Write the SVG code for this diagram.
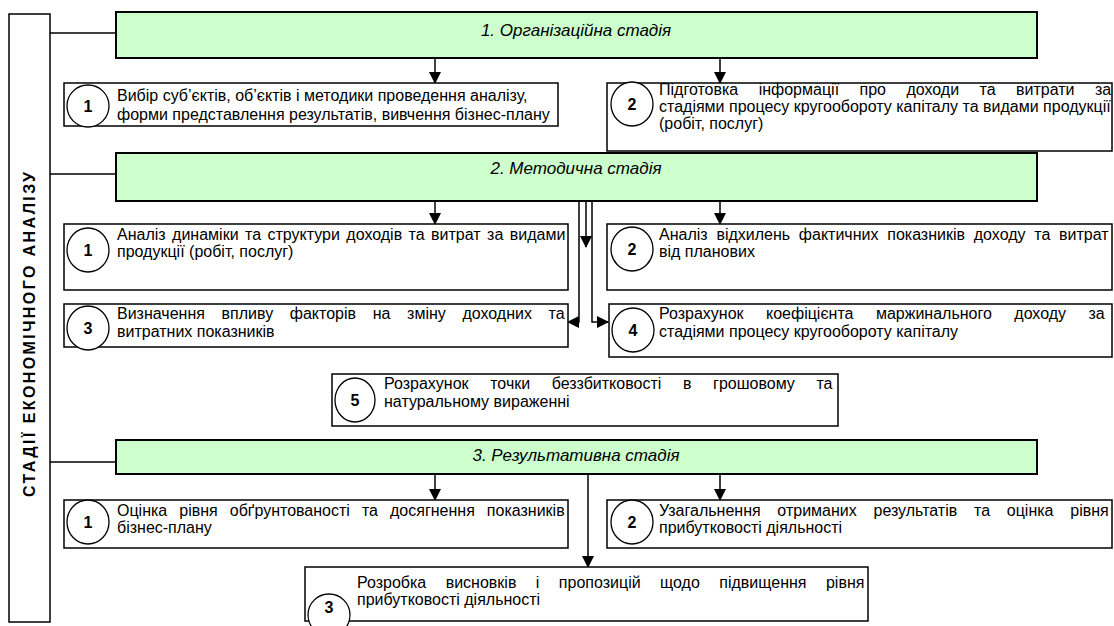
<svg xmlns="http://www.w3.org/2000/svg" width="1114" height="626" viewBox="0 0 1114 626">
<defs>
<marker id="ah" markerWidth="12" markerHeight="12" refX="11" refY="6" orient="auto" markerUnits="userSpaceOnUse"><path d="M0,0 L12,6 L0,12 Z" fill="#000"/></marker>
<style>
.stage{fill:#CCFFCC;stroke:#000;stroke-width:2}
.box{fill:#fff;stroke:#000;stroke-width:1.5}
.circ{fill:#fff;stroke:#000;stroke-width:1.3}
.t{font-family:"Liberation Sans",Arial,sans-serif;font-size:16px;fill:#000}
.st{font-family:"Liberation Sans",Arial,sans-serif;font-size:17px;font-style:italic;fill:#000;text-anchor:middle}
.num{font-family:"Liberation Sans",Arial,sans-serif;font-size:16px;font-weight:bold;fill:#000;text-anchor:middle}
.con{fill:none;stroke:#000;stroke-width:1.5}
.arr{fill:none;stroke:#000;stroke-width:1.5;marker-end:url(#ah)}
</style>
</defs>
<rect width="1114" height="626" fill="#fff"/>

<g id="connectors">
<path class="con" d="M50,33 H116"/>
<path class="con" d="M50,174 H116"/>
<path class="con" d="M50,462 H116"/>
<path class="arr" d="M435,58 V83"/>
<path class="arr" d="M720,58 V83"/>
<path class="arr" d="M435,201 V224"/>
<path class="arr" d="M720,201 V224"/>
<path class="arr" d="M586,201 V247"/>
<path class="arr" d="M579,201 V322 H568"/>
<path class="arr" d="M592,201 V322 H608"/>
<path class="arr" d="M435,474 V500"/>
<path class="arr" d="M720,474 V500"/>
<path class="arr" d="M588,474 V567"/>
</g>

<g id="side">
<rect class="box" x="9" y="14" width="41" height="608"/>
<text transform="translate(35,497) rotate(-90)" style="font-family:'Liberation Sans',Arial,sans-serif;font-size:16px;font-weight:bold" textLength="325" lengthAdjust="spacing">СТАДІЇ ЕКОНОМІЧНОГО АНАЛІЗУ</text>
</g>

<g id="stage1">
<rect class="stage" x="116" y="12" width="921" height="46"/>
<text class="st" x="576" y="36">1. Організаційна стадія</text>
</g>
<g id="n1-1">
<rect class="box" x="64" y="83" width="494" height="43"/>
<ellipse class="circ" cx="88" cy="106" rx="21" ry="21"/>
<text class="num" x="88" y="112">1</text>
<text class="t" x="117" y="101">Вибір суб’єктів, об’єктів і методики проведення аналізу,</text>
<text class="t" x="117" y="120">форми представлення результатів, вивчення бізнес-плану</text>
</g>
<g id="n1-2">
<rect class="box" x="607" y="83" width="505" height="68"/>
<ellipse class="circ" cx="632" cy="104" rx="21" ry="22"/>
<text class="num" x="632" y="110">2</text>
<text class="t" x="659" y="95" word-spacing="16">Підготовка інформації про доходи та витрати за</text>
<text class="t" x="659" y="112">стадіями процесу кругообороту капіталу та видами продукції</text>
<text class="t" x="659" y="129">(робіт, послуг)</text>
</g>

<g id="stage2">
<rect class="stage" x="116" y="153" width="921" height="48"/>
<text class="st" x="576" y="174">2. Методична стадія</text>
</g>
<g id="n2-1">
<rect class="box" x="64" y="224" width="504" height="66"/>
<ellipse class="circ" cx="88" cy="250" rx="21" ry="22"/>
<text class="num" x="88" y="256">1</text>
<text class="t" x="117" y="240" word-spacing="2">Аналіз динаміки та структури доходів та витрат за видами</text>
<text class="t" x="117" y="257">продукції (робіт, послуг)</text>
</g>
<g id="n2-2">
<rect class="box" x="607" y="224" width="505" height="66"/>
<ellipse class="circ" cx="632" cy="249" rx="21" ry="22"/>
<text class="num" x="632" y="255">2</text>
<text class="t" x="659" y="240" word-spacing="4.3">Аналіз відхилень фактичних показників доходу та витрат</text>
<text class="t" x="659" y="257">від планових</text>
</g>
<g id="n2-3">
<rect class="box" x="64" y="304" width="504" height="43"/>
<ellipse class="circ" cx="88" cy="328" rx="21" ry="22"/>
<text class="num" x="88" y="334">3</text>
<text class="t" x="117" y="319" word-spacing="12.2">Визначення впливу факторів на зміну доходних та</text>
<text class="t" x="117" y="337">витратних показників</text>
</g>
<g id="n2-4">
<rect class="box" x="609" y="304" width="503" height="53"/>
<ellipse class="circ" cx="633" cy="330" rx="21" ry="22"/>
<text class="num" x="633" y="336">4</text>
<text class="t" x="659" y="319" word-spacing="18">Розрахунок коефіцієнта маржинального доходу за</text>
<text class="t" x="659" y="337">стадіями процесу кругообороту капіталу</text>
</g>
<g id="n2-5">
<rect class="box" x="332" y="374" width="506" height="52"/>
<ellipse class="circ" cx="355" cy="400" rx="20" ry="22"/>
<text class="num" x="355" y="406">5</text>
<text class="t" x="384" y="389" word-spacing="17.2">Розрахунок точки беззбитковості в грошовому та</text>
<text class="t" x="384" y="407">натуральному вираженні</text>
</g>

<g id="stage3">
<rect class="stage" x="116" y="440" width="921" height="34"/>
<text class="st" x="576" y="461">3. Результативна стадія</text>
</g>
<g id="n3-1">
<rect class="box" x="64" y="500" width="504" height="48"/>
<ellipse class="circ" cx="88" cy="522" rx="21" ry="22"/>
<text class="num" x="88" y="528">1</text>
<text class="t" x="117" y="516" word-spacing="7.6">Оцінка рівня обґрунтованості та досягнення показників</text>
<text class="t" x="117" y="533">бізнес-плану</text>
</g>
<g id="n3-2">
<rect class="box" x="607" y="500" width="505" height="48"/>
<ellipse class="circ" cx="632" cy="522" rx="21" ry="22"/>
<text class="num" x="632" y="528">2</text>
<text class="t" x="659" y="516" word-spacing="12.3">Узагальнення отриманих результатів та оцінка рівня</text>
<text class="t" x="659" y="533">прибутковості діяльності</text>
</g>
<g id="n3-3">
<rect class="box" x="305" y="567" width="563" height="54"/>
<ellipse class="circ" cx="329" cy="615" rx="21" ry="21"/>
<text class="num" x="329" y="613">3</text>
<text class="t" x="357" y="588" word-spacing="15">Розробка висновків і пропозицій щодо підвищення рівня</text>
<text class="t" x="357" y="605">прибутковості діяльності</text>
</g>
</svg>
